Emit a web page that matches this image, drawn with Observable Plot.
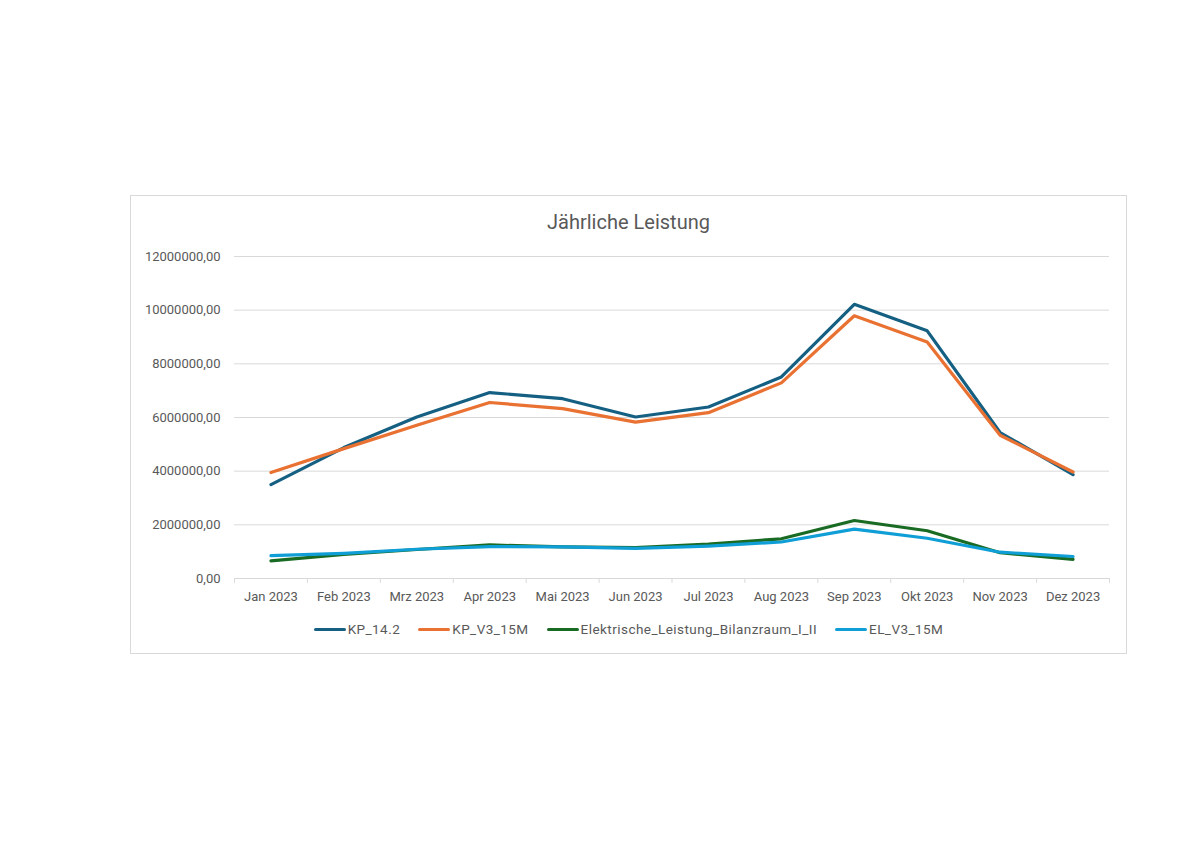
<!DOCTYPE html>
<html>
<head>
<meta charset="utf-8">
<script src="https://cdn.jsdelivr.net/npm/d3@7"></script>
<script src="https://cdn.jsdelivr.net/npm/@observablehq/plot@0.6"></script>
<style>
  html, body { margin: 0; padding: 0; background: #fff; }
  body { width: 1200px; height: 849px; position: relative; font-family: Roboto, "Noto Sans", sans-serif; }
  #frame { position: absolute; left: 130px; top: 195px; width: 995px; height: 457px; border: 1px solid #d9d9d9; }
  #title { position: absolute; left: 130px; width: 997px; top: 210px; text-align: center; font-size: 20px; color: #595959; }
  #chart { position: absolute; left: 130px; top: 240px; }
  #legend { position: absolute; left: 130px; width: 997px; top: 621px; display: flex; justify-content: center; gap: 18px; font-size: 13.5px; letter-spacing: 0.45px; color: #595959; }
  .item { display: flex; align-items: center; }
  .sw { width: 32px; height: 3px; border-radius: 2px; margin-right: 2px; }
</style>
</head>
<body>
<div id="frame"></div>
<div id="title">Jährliche Leistung</div>
<div id="chart"></div>
<div id="legend"></div>
<script>
const months = ["Jan 2023","Feb 2023","Mrz 2023","Apr 2023","Mai 2023","Jun 2023","Jul 2023","Aug 2023","Sep 2023","Okt 2023","Nov 2023","Dez 2023"];
const seriesNames = ["KP_14.2","KP_V3_15M","Elektrische_Leistung_Bilanzraum_I_II","EL_V3_15M"];
const kp142   = [3500000, 4880000, 6020000, 6930000, 6700000, 6020000, 6390000, 7510000, 10220000, 9230000, 5440000, 3870000];
const kpV3    = [3950000, 4840000, 5710000, 6560000, 6330000, 5830000, 6180000, 7290000, 9790000, 8810000, 5340000, 3970000];
const elBil   = [660000, 900000, 1080000, 1250000, 1180000, 1150000, 1280000, 1480000, 2160000, 1780000, 960000, 710000];
const elV3    = [850000, 940000, 1090000, 1190000, 1180000, 1120000, 1210000, 1360000, 1840000, 1500000, 980000, 820000];
const colors  = ["#156082", "#E97132", "#196B24", "#0F9ED5"];
const yTicks  = [0, 2000000, 4000000, 6000000, 8000000, 10000000, 12000000];

const allSeries = [kp142, kpV3, elBil, elV3];
const data = [];
allSeries.forEach((vals, si) => vals.forEach((v, i) => data.push({month: months[i], value: v, series: seriesNames[si]})));

const W = 997, H = 380, mL = 104, mR = 18, mT = 16, mB = 42;
const step = (W - mL - mR) / months.length;
const fmt = d => d.toFixed(2).replace(".", ",");

const chart = Plot.plot({
  width: W, height: H,
  marginLeft: mL, marginRight: mR, marginTop: mT, marginBottom: mB,
  style: { fontFamily: "Roboto, 'Noto Sans', sans-serif", fontSize: "13px", color: "#595959", background: "transparent" },
  x: { type: "point", domain: months, padding: 0.5, round: false, label: null, tickSize: 0, tickPadding: 13 },
  y: { domain: [0, 12000000], ticks: yTicks, tickFormat: fmt, label: null, tickSize: 0, tickPadding: 14 },
  color: { domain: seriesNames, range: colors },
  marks: [
    Plot.ruleY(yTicks, { stroke: "#d9d9d9", strokeWidth: 1 }),
    Plot.ruleX(months, { x: d => d, dx: -step / 2, y1: 0, y2: -180000, stroke: "#d9d9d9" }),
    Plot.ruleX([months[months.length - 1]], { x: d => d, dx: step / 2, y1: 0, y2: -180000, stroke: "#d9d9d9" }),
    Plot.line(data, { x: "month", y: "value", z: "series", stroke: "series", strokeWidth: 3.2, strokeLinejoin: "round", strokeLinecap: "round" })
  ]
});
document.getElementById("chart").appendChild(chart);

const legend = document.getElementById("legend");
seriesNames.forEach((n, i) => {
  const it = document.createElement("div");
  it.className = "item";
  it.innerHTML = `<span class="sw" style="background:${colors[i]}"></span><span>${n}</span>`;
  legend.appendChild(it);
});
</script>
</body>
</html>
